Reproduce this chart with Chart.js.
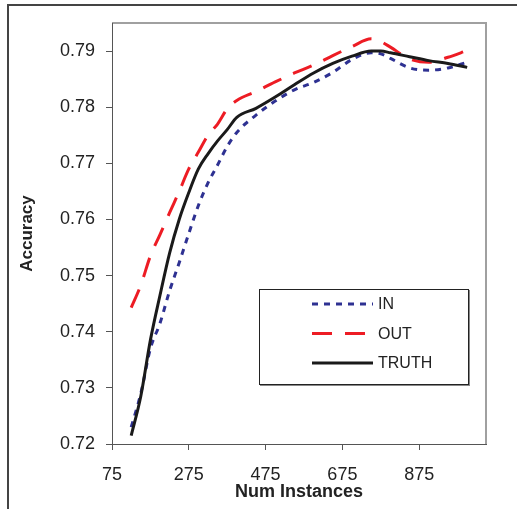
<!DOCTYPE html>
<html>
<head>
<meta charset="utf-8">
<script src="https://cdn.jsdelivr.net/npm/chart.js@4/dist/chart.umd.min.js"></script>
<style>
  html, body { margin: 0; padding: 0; background: #fff; }
  #wrap { width: 517px; height: 509px; }
</style>
</head>
<body>
<div id="wrap"><canvas id="accChart" width="517" height="509"></canvas></div>
<script>
// valores
const instancias = [125, 150, 175, 200, 225, 250, 275, 300, 325, 350, 375, 400, 450, 500, 550, 600, 650, 700, 750, 775, 800, 850, 900, 950, 1000];
const serieIn    = [0.7230, 0.7290, 0.7370, 0.7415, 0.7473, 0.7523, 0.7575, 0.7625, 0.7665, 0.7697, 0.7730, 0.7755, 0.7786, 0.7811, 0.7831, 0.7844, 0.7862, 0.7885, 0.7897, 0.7895, 0.7887, 0.7870, 0.7866, 0.7870, 0.7880];
const serieOut   = [0.7443, 0.7483, 0.7535, 0.7573, 0.7612, 0.7650, 0.7690, 0.7720, 0.7750, 0.7770, 0.7797, 0.7812, 0.7828, 0.7845, 0.7861, 0.7875, 0.7892, 0.7908, 0.7922, 0.7917, 0.7907, 0.7886, 0.7880, 0.7889, 0.7901];
const serieTruth = [0.7215, 0.7285, 0.7385, 0.7465, 0.7540, 0.7600, 0.7648, 0.7690, 0.7717, 0.7740, 0.7760, 0.7782, 0.7798, 0.7818, 0.7840, 0.7861, 0.7878, 0.7891, 0.7900, 0.7900, 0.7897, 0.7890, 0.7883, 0.7878, 0.7871];
const ticksX = [75, 275, 475, 675, 875];
const ticksY = [0.72, 0.73, 0.74, 0.75, 0.76, 0.77, 0.78, 0.79];
const nomesSeries = ['IN', 'OUT', 'TRUTH'];

const fonte = '"Liberation Sans", Arial, sans-serif';

function pontos(valores) {
    return instancias.map((x, i) => ({ x: x, y: valores[i] }));
}

// moldura externa + borda da área do gráfico
const molduraPlugin = {
    id: 'moldura',
    beforeDraw(chart) {
        const ctx = chart.ctx;
        ctx.save();
        ctx.fillStyle = '#fff';
        ctx.fillRect(0, 0, chart.width, chart.height);
        ctx.strokeStyle = '#444';
        ctx.lineWidth = 2;
        ctx.beginPath();
        ctx.moveTo(8, chart.height);
        ctx.lineTo(8, 5);
        ctx.lineTo(chart.width, 5);
        ctx.stroke();
        const a = chart.chartArea;
        ctx.strokeStyle = '#a0a0a0';
        ctx.lineWidth = 2;
        ctx.beginPath();
        ctx.moveTo(a.left, a.top);
        ctx.lineTo(a.right, a.top);
        ctx.lineTo(a.right, a.bottom);
        ctx.stroke();
        ctx.restore();
    }
};

// legenda desenhada dentro da área do gráfico
const legendaPlugin = {
    id: 'legendaCaixa',
    afterDraw(chart) {
        const ctx = chart.ctx;
        const a = chart.chartArea;
        const left = a.left + 147, top = a.top + 266;
        const w = 209, h = 95;
        ctx.save();
        ctx.fillStyle = '#fff';
        ctx.fillRect(left, top, w, h);
        ctx.strokeStyle = '#888';
        ctx.lineWidth = 2;
        ctx.beginPath();
        ctx.moveTo(left + w + 1, top + 1);
        ctx.lineTo(left + w + 1, top + h + 1);
        ctx.lineTo(left + 1, top + h + 1);
        ctx.stroke();
        ctx.strokeStyle = '#222';
        ctx.lineWidth = 1;
        ctx.strokeRect(left + 0.5, top + 0.5, w, h);

        chart.data.datasets.forEach((ds, i) => {
            const y = top + 15 + i * 29.5;
            ctx.strokeStyle = ds.borderColor;
            ctx.lineWidth = ds.borderWidth;
            ctx.setLineDash(ds.borderDash || []);
            ctx.beginPath();
            ctx.moveTo(left + 53, y);
            ctx.lineTo(left + 114, y);
            ctx.stroke();
            ctx.setLineDash([]);
            ctx.fillStyle = '#222';
            ctx.font = '16px ' + fonte;
            ctx.textBaseline = 'middle';
            ctx.fillText(ds.label, left + 119, y + 1);
        });
        ctx.restore();
    }
};

const ctx = document.getElementById('accChart').getContext('2d');
new Chart(ctx, {
    type: 'line',
    data: {
        datasets: [
            {
                label: nomesSeries[0],
                data: pontos(serieIn),
                borderColor: '#2e3192',
                borderWidth: 3,
                borderDash: [6, 6],
                order: 3
            },
            {
                label: nomesSeries[1],
                data: pontos(serieOut),
                borderColor: '#ed1c24',
                borderWidth: 3,
                borderDash: [20, 13],
                order: 2
            },
            {
                label: nomesSeries[2],
                data: pontos(serieTruth),
                borderColor: '#1a1a1a',
                borderWidth: 3,
                order: 1
            }
        ]
    },
    options: {
        responsive: false,
        animation: false,
        devicePixelRatio: 1,
        layout: { padding: { top: 23, right: 31, left: 0, bottom: 0 } },
        elements: {
            point: { radius: 0 },
            line: { cubicInterpolationMode: 'monotone', fill: false }
        },
        plugins: {
            legend: { display: false },
            tooltip: { enabled: false }
        },
        scales: {
            x: {
                type: 'linear',
                min: 75,
                max: 1049,
                afterBuildTicks: scale => { scale.ticks = ticksX.map(v => ({ value: v })); },
                afterFit: scale => { scale.height = 65; },
                grid: { drawOnChartArea: false, tickLength: 6, color: '#555' },
                border: { color: '#555', width: 1 },
                ticks: {
                    padding: 14,
                    maxRotation: 0,
                    color: '#222',
                    font: { family: fonte, size: 18 }
                },
                title: {
                    display: true,
                    text: 'Num Instances',
                    color: '#222',
                    padding: { top: 0, bottom: 6 },
                    font: { family: fonte, size: 18, weight: 'bold' }
                }
            },
            y: {
                min: 0.72,
                max: 0.795,
                afterBuildTicks: scale => { scale.ticks = ticksY.map(v => ({ value: v })); },
                afterFit: scale => { scale.width = 112; },
                grid: { drawOnChartArea: false, tickLength: 6, color: '#555' },
                border: { color: '#555', width: 1 },
                ticks: {
                    padding: 11,
                    color: '#222',
                    font: { family: fonte, size: 18 },
                    callback: v => v.toFixed(2)
                },
                title: {
                    display: true,
                    text: 'Accuracy',
                    color: '#222',
                    padding: { top: 17, bottom: 0 },
                    font: { family: fonte, size: 17, weight: 'bold' }
                }
            }
        }
    },
    plugins: [molduraPlugin, legendaPlugin]
});
</script>
</body>
</html>
